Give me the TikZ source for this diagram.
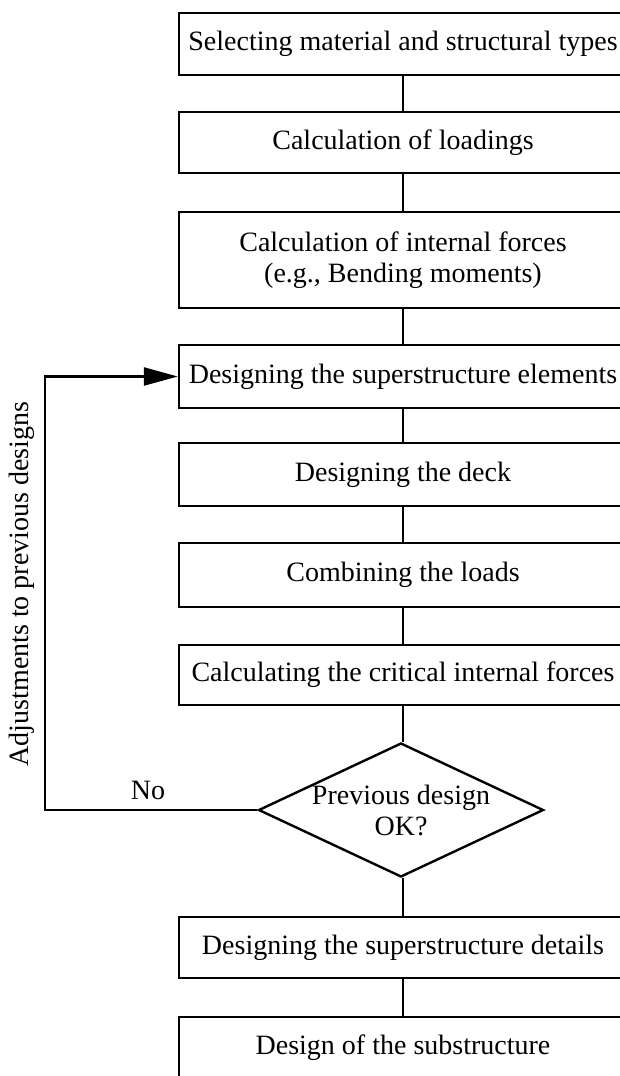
\documentclass[tikz,border=0pt]{standalone}
\usepackage{fontspec}
\setmainfont{Liberation Serif}
\usetikzlibrary{shapes.geometric,arrows.meta}
\begin{document}
\begin{tikzpicture}[x=1pt,y=-1pt,line width=2.4pt,
  lbl/.style={font=\fontsize{28}{31}\selectfont},
  box/.style={lbl,draw,rectangle,minimum width=448pt,align=center,inner sep=0pt},
  dec/.style={lbl,draw,diamond,aspect=2.1,inner sep=-6pt,minimum width=285pt,minimum height=134pt,align=center},
  conn/.style={line width=2.4pt},
  tip/.style={-{Triangle[length=34pt,width=18pt]}}]
\useasboundingbox (0,0) rectangle (620,1076);
\clip (0,0) rectangle (620,1076);
\node[box,minimum height=62pt] (b1) at (403,44) {Selecting material and structural types};
\node[box,minimum height=61pt] (b2) at (403,142.5) {Calculation of loadings};
\node[box,minimum height=96pt] (b3) at (403,260) {Calculation of internal forces\\(e.g., Bending moments)};
\node[box,minimum height=63pt] (b4) at (403,376.5) {Designing the superstructure elements};
\node[box,minimum height=63pt] (b5) at (403,474.5) {Designing the deck};
\node[box,minimum height=64pt] (b6) at (403,575) {Combining the loads};
\node[box,minimum height=60pt] (b7) at (403,675) {Calculating the critical internal forces};
\node[dec] (d) at (401,810) {Previous design\\OK?};
\node[box,minimum height=61pt] (b8) at (403,947.5) {Designing the superstructure details};
\node[box,minimum height=62pt] (b9) at (403,1048) {Design of the substructure};
\draw[conn] (b1) -- (b2);
\draw[conn] (b2) -- (b3);
\draw[conn] (b3) -- (b4);
\draw[conn] (b4) -- (b5);
\draw[conn] (b5) -- (b6);
\draw[conn] (b6) -- (b7);
\draw[conn] (b7.south) -- (b7.south |- d.north);
\draw[conn] (d.south -| b8.north) -- (b8.north);
\draw[conn] (b8) -- (b9);
\coordinate (fb) at (45,810);
\draw[conn,tip] (d.west) -- (fb) |- (b4.west);
\node[lbl] (no) at (148,790) {No};
\node[lbl,rotate=90] (adj) at (22,584) {Adjustments to previous designs};
\end{tikzpicture}
\end{document}
